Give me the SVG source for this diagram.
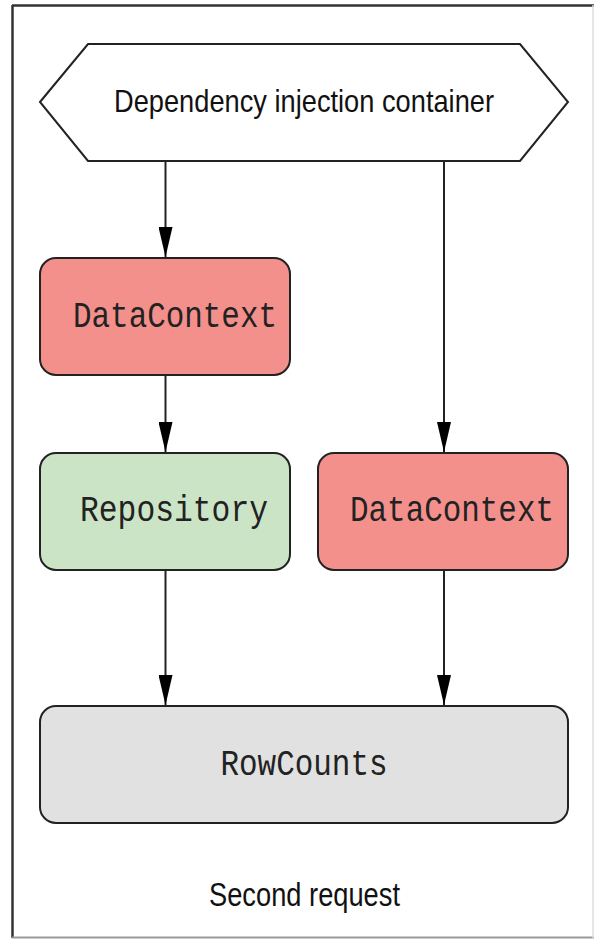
<svg xmlns="http://www.w3.org/2000/svg" width="594" height="939" viewBox="0 0 594 939">
<style>
.box{stroke:#222;stroke-width:2}
.red{fill:#f4908c}
.green{fill:#cbe4c5}
.grey{fill:#e0e1e0}
.mono{font-family:"Liberation Mono","Courier New",monospace;font-size:36px;fill:#222}
.sans{font-family:"Liberation Sans",Arial,sans-serif;font-size:32px;fill:#111}
.conn{stroke:#222;stroke-width:2;fill:none;marker-end:url(#arr)}
</style>
<defs>
<marker id="arr" markerUnits="userSpaceOnUse" markerWidth="32" markerHeight="14" refX="30" refY="7" orient="auto" viewBox="0 0 32 14">
<path d="M0,0 L30,7 L0,14 Z" fill="#000"/>
</marker>
</defs>
<rect x="0" y="0" width="594" height="939" fill="#fff"/>
<line x1="12.5" y1="5" x2="12.5" y2="938" stroke="#333" stroke-width="2.5"/>
<line x1="12" y1="5.5" x2="594" y2="5.5" stroke="#333" stroke-width="2.5"/>
<line x1="12" y1="937.5" x2="594" y2="937.5" stroke="#999" stroke-width="2"/>
<line x1="593" y1="5" x2="593" y2="938" stroke="#ddd" stroke-width="1.5"/>
<g id="container">
<polygon class="box" fill="#fff" points="40,102 88,44 520,44 568,102 520,161 88,161"/>
<text class="sans" x="304" y="112" text-anchor="middle" textLength="380" lengthAdjust="spacingAndGlyphs">Dependency injection container</text>
</g>
<g id="datacontext1">
<rect class="box red" x="40" y="258" width="250" height="117" rx="16"/>
<text class="mono" x="175" y="327" text-anchor="middle" textLength="204" lengthAdjust="spacingAndGlyphs">DataContext</text>
</g>
<g id="repository">
<rect class="box green" x="40" y="453" width="250" height="117" rx="16"/>
<text class="mono" x="174" y="521" text-anchor="middle" textLength="188" lengthAdjust="spacingAndGlyphs">Repository</text>
</g>
<g id="datacontext2">
<rect class="box red" x="318" y="453" width="250" height="117" rx="16"/>
<text class="mono" x="452" y="521" text-anchor="middle" textLength="204" lengthAdjust="spacingAndGlyphs">DataContext</text>
</g>
<g id="rowcounts">
<rect class="box grey" x="40" y="706" width="528" height="117" rx="16"/>
<text class="mono" x="304" y="775" text-anchor="middle" textLength="167" lengthAdjust="spacingAndGlyphs">RowCounts</text>
</g>
<g id="caption">
<text class="sans" x="304.5" y="906" text-anchor="middle" textLength="191" lengthAdjust="spacingAndGlyphs" style="font-size:34px">Second request</text>
</g>
<g id="edges">
<line class="conn" x1="165.5" y1="161" x2="165.5" y2="257"/>
<line class="conn" x1="444" y1="161" x2="444" y2="452"/>
<line class="conn" x1="165.5" y1="375" x2="165.5" y2="452"/>
<line class="conn" x1="165.5" y1="570" x2="165.5" y2="705"/>
<line class="conn" x1="444" y1="570" x2="444" y2="705"/>
</g>
</svg>
